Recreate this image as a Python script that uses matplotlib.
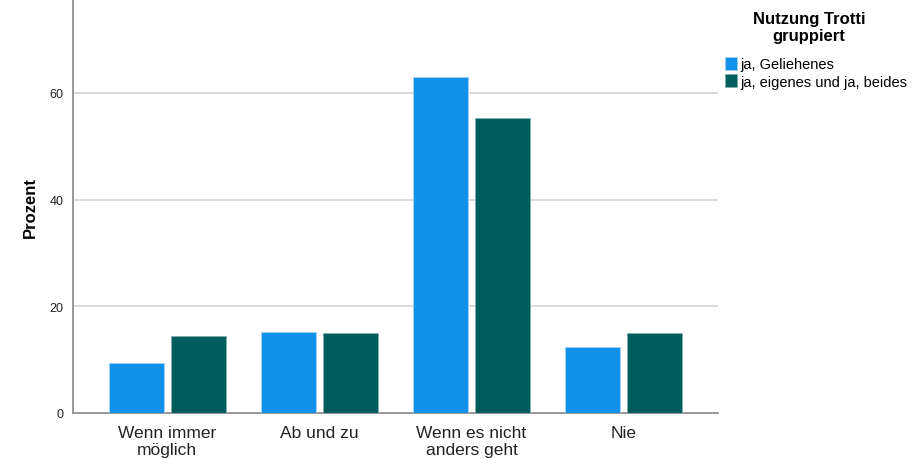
import numpy as np
import matplotlib.pyplot as plt

plt.rcParams['font.family'] = ['Liberation Sans', 'DejaVu Sans']

categories = ["Wenn immer\nmöglich", "Ab und zu", "Wenn es nicht\nanders geht", "Nie"]
series_names = ["ja, Geliehenes", "ja, eigenes und ja, beides"]
geliehen = [9.3, 15.25, 62.9, 12.3]
eigen = [14.4, 15.0, 55.3, 15.0]
colors = ["#1192e8", "#005d5d"]

fig = plt.figure(figsize=(9.24, 4.6), dpi=100)
ax = fig.add_axes([73/924, 1 - 414/460, 645/924, 414/460])

x = np.arange(len(categories))
w = 0.361
off = 0.2035
ax.bar(x - off, geliehen, w, color=colors[0], edgecolor="#9fd0f3", linewidth=0.6,
       label=series_names[0], zorder=3)
ax.bar(x + off, eigen, w, color=colors[1], edgecolor="#7fb0b0", linewidth=0.6,
       label=series_names[1], zorder=3)

ax.set_xlim(-0.62, 3.62)
ax.set_ylim(0, 77.6)
ax.set_yticks([0, 20, 40, 60])
ax.set_xticks(x)
ax.set_xticklabels(categories, fontsize=12.5, color="#222222", linespacing=1.15)
ax.tick_params(axis="y", length=0, labelsize=9, pad=7, colors="#222222")
ax.tick_params(axis="x", length=0, pad=9)
for yv in [20, 40, 60]:
    ax.axhline(yv, color="#d4d4d4", linewidth=1.2, zorder=1)

for s in ["top", "right"]:
    ax.spines[s].set_visible(False)
for s in ["left", "bottom"]:
    ax.spines[s].set_color("#888888")
    ax.spines[s].set_linewidth(1.2)

ax.set_ylabel("Prozent", fontsize=12, fontweight="bold", labelpad=8)

fig.text(809/924, 1 - 28/460, "Nutzung Trotti\ngruppiert", ha="center", va="center",
         fontsize=12, fontweight="bold", linespacing=1.2)
leg = fig.legend(loc="upper left", bbox_to_anchor=(719/924, 1 - 52/460), frameon=False,
                 fontsize=10.5, handlelength=0.85, handleheight=1.0, handletextpad=0.2,
                 labelspacing=0.2, borderaxespad=0)

fig.savefig("out.png", dpi=100)
